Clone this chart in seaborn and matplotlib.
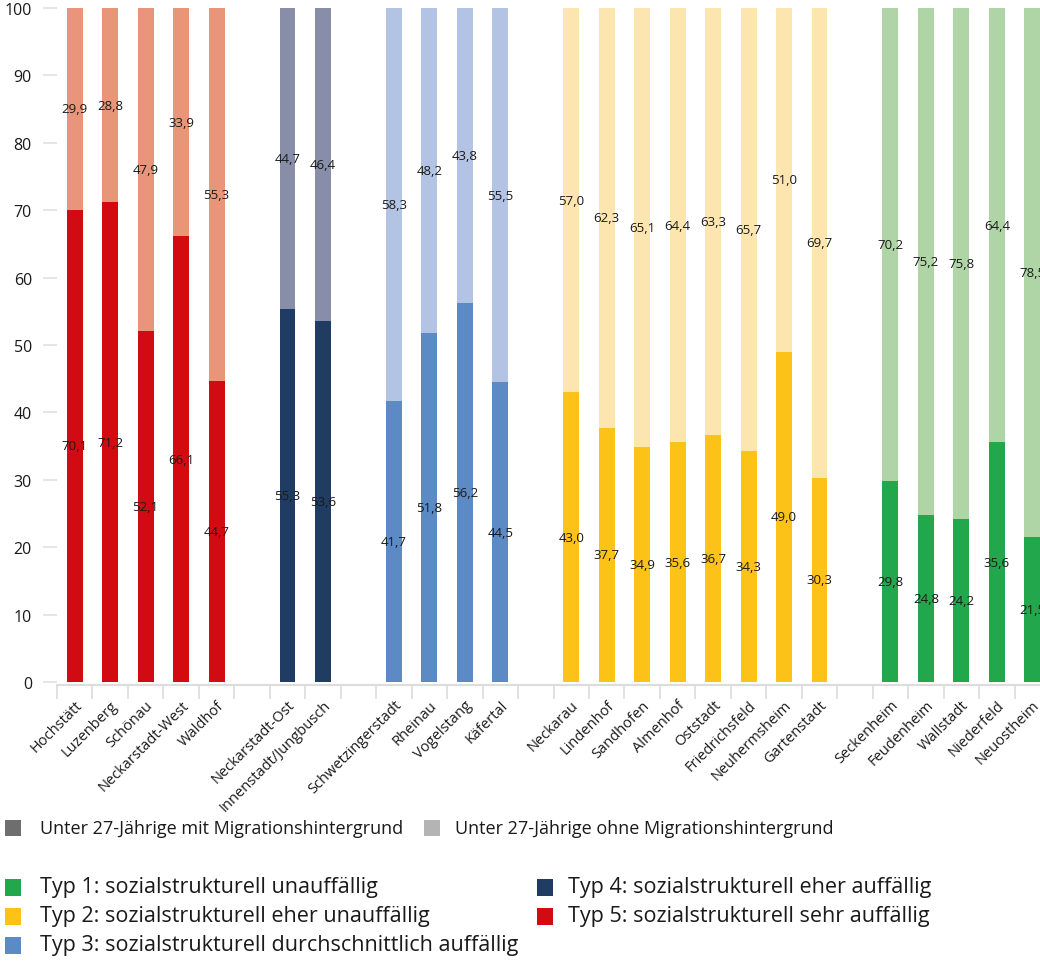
import matplotlib
matplotlib.use("Agg")
import matplotlib.pyplot as plt
from matplotlib import font_manager
from matplotlib.patches import Rectangle
from matplotlib.ticker import FixedLocator
import seaborn as sns
import pandas as pd

# --- data -------------------------------------------------------------
typ5 = ["Hochstätt", "Luzenberg", "Schönau", "Neckarstadt-West", "Waldhof"]
typ4 = ["Neckarstadt-Ost", "Innenstadt/Jungbusch"]
typ3 = ["Schwetzingerstadt", "Rheinau", "Vogelstang", "Käfertal"]
typ2 = ["Neckarau", "Lindenhof", "Sandhofen", "Almenhof", "Oststadt",
        "Friedrichsfeld", "Neuhermsheim", "Gartenstadt"]
typ1 = ["Seckenheim", "Feudenheim", "Wallstadt", "Niederfeld", "Neuostheim"]

mit_mig_5 = [70.1, 71.2, 52.1, 66.1, 44.7]
ohne_mig_5 = [29.9, 28.8, 47.9, 33.9, 55.3]
mit_mig_4 = [55.3, 53.6]
ohne_mig_4 = [44.7, 46.4]
mit_mig_3 = [41.7, 51.8, 56.2, 44.5]
ohne_mig_3 = [58.3, 48.2, 43.8, 55.5]
mit_mig_2 = [43.0, 37.7, 34.9, 35.6, 36.7, 34.3, 49.0, 30.3]
ohne_mig_2 = [57.0, 62.3, 65.1, 64.4, 63.3, 65.7, 51.0, 69.7]
mit_mig_1 = [29.8, 24.8, 24.2, 35.6, 21.5]
ohne_mig_1 = [70.2, 75.2, 75.8, 64.4, 78.5]

y_ticks = [0, 10, 20, 30, 40, 50, 60, 70, 80, 90, 100]

serie_labels = ["Unter 27-Jährige mit Migrationshintergrund",
                "Unter 27-Jährige ohne Migrationshintergrund"]
typ_labels = {
    1: "Typ 1: sozialstrukturell unauffällig",
    2: "Typ 2: sozialstrukturell eher unauffällig",
    3: "Typ 3: sozialstrukturell durchschnittlich auffällig",
    4: "Typ 4: sozialstrukturell eher auffällig",
    5: "Typ 5: sozialstrukturell sehr auffällig",
}

# colours per type: (dark = mit Migrationshintergrund, light = ohne)
dark = {5: "#d20b13", 4: "#203c62", 3: "#5c8ac4", 2: "#fcc218", 1: "#22a74c"}
light = {5: "#e9957a", 4: "#898ea8", 3: "#b3c3e4", 2: "#fde5b0", 1: "#afd5a7"}

groups = [(5, typ5, mit_mig_5, ohne_mig_5),
          (4, typ4, mit_mig_4, ohne_mig_4),
          (3, typ3, mit_mig_3, ohne_mig_3),
          (2, typ2, mit_mig_2, ohne_mig_2),
          (1, typ1, mit_mig_1, ohne_mig_1)]

rows = []
order = []
for gi, (typ, names, mit, ohne) in enumerate(groups):
    if gi > 0:
        order.append(f"_luecke{gi}")
    for n, m, o in zip(names, mit, ohne):
        rows.append({"Stadtteil": n, "Typ": typ, "mit": m, "ohne": o})
        order.append(n)
df = pd.DataFrame(rows)
df["gesamt"] = df["mit"] + df["ohne"]

pal_light = {r.Stadtteil: light[r.Typ] for r in df.itertuples()}
pal_dark = {r.Stadtteil: dark[r.Typ] for r in df.itertuples()}

# --- fonts ------------------------------------------------------------
sns.set_theme(style="white")
installed = {f.name for f in font_manager.fontManager.ttflist}
base_font = "Open Sans" if "Open Sans" in installed else "DejaVu Sans"
plt.rcParams["font.family"] = [base_font, "DejaVu Sans"]

W, H = 1040, 962
fig = plt.figure(figsize=(W / 100, H / 100), dpi=100)
ax = fig.add_axes([57 / W, 1 - 683 / H, 993 / W, 674 / H])

# full bar (light) first, then the share with migration background on top
sns.barplot(data=df, x="Stadtteil", y="gesamt", order=order, hue="Stadtteil",
            palette=pal_light, width=0.45, saturation=1, legend=False,
            linewidth=0, edgecolor="none", ax=ax)
sns.barplot(data=df, x="Stadtteil", y="mit", order=order, hue="Stadtteil",
            palette=pal_dark, width=0.45, saturation=1, legend=False,
            linewidth=0, edgecolor="none", ax=ax)

def fmt(v):
    return f"{v:.1f}".replace(".", ",")

for r in df.itertuples():
    xi = order.index(r.Stadtteil)
    ax.text(xi, r.mit / 2, fmt(r.mit), ha="center", va="center",
            fontsize=9.5, color="#1a1a1a")
    ax.text(xi, r.mit + r.ohne / 2, fmt(r.ohne), ha="center", va="center",
            fontsize=9.5, color="#1a1a1a")

ax.set_xlim(-0.5, len(order) - 0.5)
ax.set_ylim(0, 100)
ax.set_xlabel("")
ax.set_ylabel("")

# y axis
ax.set_yticks(y_ticks)
ax.set_yticklabels([str(t) for t in y_ticks])
ax.tick_params(axis="y", length=10, width=1.2, color="#e0e0e0", pad=8,
               labelsize=11.5, labelcolor="#1a1a1a", left=True)

# x axis: labels at the bars, separators between slots
ax.set_xticks(range(len(order)))
ax.set_xticklabels(["" if o.startswith("_luecke") else o for o in order])
ax.tick_params(axis="x", which="major", length=0, pad=9, labelsize=10.5,
               labelcolor="#1a1a1a", labelrotation=45)
ax.xaxis.set_minor_locator(FixedLocator([i - 0.5 for i in range(len(order) + 1)]))
ax.tick_params(axis="x", which="minor", length=10, width=1.2, color="#dcdcdc",
               bottom=True)

for s in ["top", "right", "left"]:
    ax.spines[s].set_visible(False)
ax.spines["bottom"].set_color("#dcdcdc")
ax.spines["bottom"].set_linewidth(1.5)
ax.spines["bottom"].set_position(("outward", 2))

# --- legends ------------------------------------------------------------
def box(x, y, w, h, color):
    fig.add_artist(Rectangle((x / W, 1 - (y + h) / H), w / W, h / H,
                             transform=fig.transFigure, color=color, lw=0))

def label(x, y, s, size):
    fig.text(x / W, 1 - y / H, s, ha="left", va="center", fontsize=size,
             color="#1a1a1a")

box(5, 821, 16, 16, "#6e6e6e")
label(40, 829, serie_labels[0], 13)
box(424, 821, 16, 16, "#b4b4b4")
label(455, 829, serie_labels[1], 13)

col1 = [1, 2, 3]
col2 = [4, 5]
for i, t in enumerate(col1):
    yc = 888 + 29 * i
    box(5, yc - 8, 16, 17, dark[t])
    label(40, yc, typ_labels[t], 15.5)
for i, t in enumerate(col2):
    yc = 888 + 29 * i
    box(537, yc - 8, 16, 17, dark[t])
    label(568, yc, typ_labels[t], 15.5)

# rotated district names, anchored at their right end below each bar
for lbl in ax.get_xticklabels():
    lbl.set_rotation(45)
    lbl.set_horizontalalignment("right")
    lbl.set_rotation_mode("anchor")

fig.savefig("out.png", dpi=100)
